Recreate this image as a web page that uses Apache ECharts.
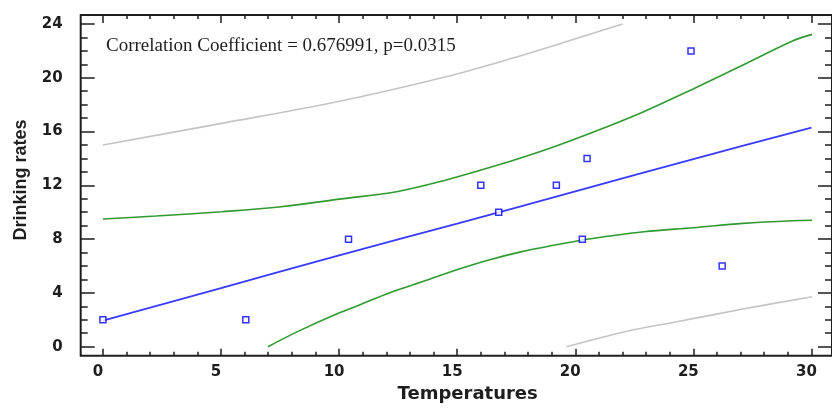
<!DOCTYPE html>
<html>
<head>
<meta charset="utf-8">
<title>Drinking rates vs Temperatures</title>
<script src="https://cdn.jsdelivr.net/npm/echarts@6.0.0/dist/echarts.min.js"></script>
<style>
  html, body { margin: 0; padding: 0; background: #fff; }
  #chart { width: 832px; height: 409px; }
</style>
</head>
<body>
<div id="chart"></div>
<script>
// observed points
var tempX = [0, 6.05, 10.4, 16.0, 16.76, 19.2, 20.3, 20.5, 24.9, 26.22]
var drinkY = [2, 2, 8, 12, 10, 12, 8, 14, 22, 6]

// fitted line
var fitX = [0, 5, 10, 15, 20, 25, 30]
var fitY = [1.93, 4.35, 6.8, 9.15, 11.55, 13.95, 16.3]

// confidence band (green)
var confHiX = [0, 2.24, 5.03, 7.55, 9.92, 12.43, 14.53, 16.62, 18.71, 20.8, 22.9, 24.99, 27.1, 29.2, 30.03]
var confHiY = [9.5, 9.72, 10.04, 10.41, 10.96, 11.53, 12.4, 13.45, 14.63, 15.99, 17.48, 19.17, 20.95, 22.74, 23.23]
var confLoX = [6.99, 8.24, 9.79, 10.76, 12.15, 13.55, 14.95, 16.34, 17.74, 19.14, 20.32, 21.09, 22.9, 24.99, 27.1, 29.2, 30.03]
var confLoY = [0, 1.12, 2.36, 3.03, 4.02, 4.84, 5.7, 6.45, 7.07, 7.56, 7.94, 8.14, 8.55, 8.85, 9.17, 9.37, 9.4]

// prediction band (gray)
var predHiX = [0, 5.03, 9.92, 14.53, 17.32, 19.84, 22.0]
var predHiY = [15.0, 16.61, 18.22, 20.08, 21.45, 22.81, 24.0]
var predLoX = [19.63, 22.2, 24.3, 27.1, 30.03]
var predLoY = [0, 1.15, 1.85, 2.8, 3.72]

// ticks
var xMajor = [0, 5, 10, 15, 20, 25, 30]
var xMinor = []
for (var i = 0; i <= 30; i++) xMinor.push(i)
var yMajor = [0, 4, 8, 12, 16, 20, 24]
var yMinor = []
for (var j = 0; j <= 24; j++) yMinor.push(j)

var noteText = 'Correlation Coefficient = 0.676991, p=0.0315'

function pairs (xs, ys) {
  return xs.map(function (x, k) { return [x, ys[k]] })
}

var inkColor = '#1e1e1e'

// one axis per tick size / side, all sharing the same range
function xAx (pos, ticks, len, showLabel) {
  return {
    type: 'value', position: pos, min: -0.94, max: 30.87,
    axisLine: { show: false, onZero: false },
    splitLine: { show: false },
    axisTick: { show: true, inside: true, length: len, customValues: ticks, lineStyle: { color: inkColor, width: 1.5 } },
    axisLabel: {
      show: showLabel, customValues: xMajor, margin: 9, padding: [0, 10, 0, 0],
      color: inkColor, fontFamily: 'DejaVu Sans', fontWeight: 'bold', fontSize: 15
    }
  }
}
function yAx (pos, ticks, len, showLabel) {
  return {
    type: 'value', position: pos, min: -0.67, max: 24.67,
    axisLine: { show: false, onZero: false },
    splitLine: { show: false },
    axisTick: { show: true, inside: true, length: len, customValues: ticks, lineStyle: { color: inkColor, width: 1.5 } },
    axisLabel: {
      show: showLabel, customValues: yMajor, margin: 18,
      color: inkColor, fontFamily: 'DejaVu Sans', fontWeight: 'bold', fontSize: 15
    }
  }
}

function curve (xs, ys, color, w) {
  return {
    type: 'line', data: pairs(xs, ys), smooth: 0.35, showSymbol: false,
    lineStyle: { color: color, width: w }, z: 2, silent: true
  }
}

var chart = echarts.init(document.getElementById('chart'))
chart.setOption({
  animation: false,
  backgroundColor: '#fff',
  grid: {
    left: 80.7, top: 15, right: -7.3, bottom: 53.3,
    show: true, borderColor: inkColor, borderWidth: 2, backgroundColor: 'transparent'
  },
  xAxis: [
    xAx('bottom', xMajor, 7, true),
    xAx('bottom', xMinor, 4, false),
    xAx('top', xMajor, 8, false),
    xAx('top', xMinor, 4, false)
  ],
  yAxis: [
    yAx('left', yMajor, 14, true),
    yAx('left', yMinor, 7, false),
    yAx('right', yMajor, 14, false),
    yAx('right', yMinor, 7, false)
  ],
  graphic: [
    {
      type: 'text', left: 106, top: 37,
      style: { text: noteText, font: '19px "Liberation Serif"', fill: inkColor }
    },
    {
      type: 'text', x: 467.7, y: 394,
      style: { text: 'Temperatures', font: 'bold 18px "DejaVu Sans"', fill: inkColor, align: 'center', verticalAlign: 'middle' }
    },
    {
      type: 'text', x: 21.5, y: 180, rotation: Math.PI / 2,
      style: { text: 'Drinking rates', font: 'bold 18px "Liberation Sans"', fill: inkColor, align: 'center', verticalAlign: 'middle' }
    }
  ],
  series: [
    curve(predHiX, predHiY, '#c4c4c4', 1.6),
    curve(predLoX, predLoY, '#c4c4c4', 1.6),
    curve(confHiX, confHiY, '#2f9a2f', 1.6),
    curve(confLoX, confLoY, '#2f9a2f', 1.6),
    curve(fitX, fitY, '#3a3aff', 1.8),
    {
      type: 'scatter',
      data: pairs(tempX, drinkY),
      symbol: 'rect',
      symbolSize: 6,
      itemStyle: { color: '#fff', borderColor: '#0000ff', borderWidth: 1.5 },
      z: 5
    }
  ]
})
</script>
</body>
</html>
